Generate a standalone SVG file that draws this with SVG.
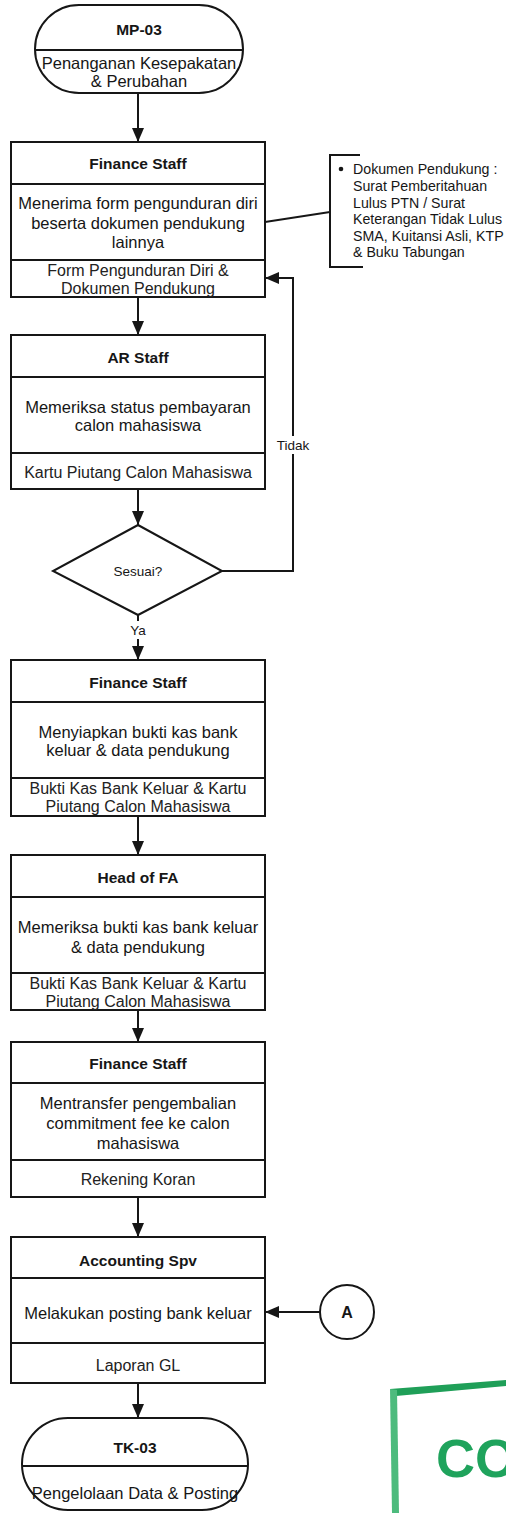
<svg xmlns="http://www.w3.org/2000/svg" width="506" height="1513" viewBox="0 0 506 1513">
  <defs>
    <marker id="arrow" viewBox="0 0 14 12" refX="14" refY="6" markerWidth="14" markerHeight="12" markerUnits="userSpaceOnUse" orient="auto">
      <path d="M0,0 L14,6 L0,12 Z" fill="#161616"/>
    </marker>
    <style>
      .shape { fill: #ffffff; stroke: #161616; stroke-width: 2; }
      .div { stroke: #161616; stroke-width: 2; }
      .wire { fill: none; stroke: #161616; stroke-width: 2; }
      .title { font-family: "Liberation Sans", Arial, sans-serif; font-weight: bold; font-size: 15.5px; fill: #161616; text-anchor: middle; }
      .body { font-family: "Liberation Sans", Arial, sans-serif; font-size: 16.5px; fill: #161616; text-anchor: middle; }
      .doc { font-family: "Liberation Sans", Arial, sans-serif; font-size: 16px; fill: #222222; text-anchor: middle; }
      .label { font-family: "Liberation Sans", Arial, sans-serif; font-size: 13.5px; fill: #161616; text-anchor: middle; }
      .note { font-family: "Liberation Sans", Arial, sans-serif; font-size: 14.2px; fill: #161616; }
    </style>
  </defs>

  <rect width="506" height="1513" fill="#ffffff"/>

  <!-- connectors -->
  <g id="connectors">
    <line class="wire" x1="138" y1="93" x2="138" y2="142" marker-end="url(#arrow)"/>
    <line class="wire" x1="138" y1="297" x2="138" y2="335" marker-end="url(#arrow)"/>
    <line class="wire" x1="138" y1="489" x2="138" y2="525" marker-end="url(#arrow)"/>
    <line class="wire" x1="138" y1="615" x2="138" y2="660" marker-end="url(#arrow)"/>
    <line class="wire" x1="138" y1="816" x2="138" y2="855" marker-end="url(#arrow)"/>
    <line class="wire" x1="138" y1="1010" x2="138" y2="1042" marker-end="url(#arrow)"/>
    <line class="wire" x1="138" y1="1197" x2="138" y2="1237" marker-end="url(#arrow)"/>
    <line class="wire" x1="138" y1="1383" x2="138" y2="1418" marker-end="url(#arrow)"/>
    <!-- "Tidak" loop back to the first Finance Staff step -->
    <polyline class="wire" points="222,571 293,571 293,278 265,278" marker-end="url(#arrow)"/>
    <!-- off-page connector A into Accounting Spv -->
    <line class="wire" x1="320" y1="1312" x2="265" y2="1312" marker-end="url(#arrow)"/>
    <!-- annotation link -->
    <line class="wire" x1="265" y1="222" x2="330" y2="212"/>
    <!-- branch labels -->
    <rect x="274" y="436" width="38" height="18" fill="#ffffff"/>
    <text class="label" x="293" y="450">Tidak</text>
    <rect x="127" y="621" width="22" height="18" fill="#ffffff"/>
    <text class="label" x="138" y="635">Ya</text>
  </g>

  <!-- start terminator -->
  <g id="mp03">
    <rect class="shape" x="35" y="5" width="208" height="88" rx="44" ry="44"/>
    <line class="div" x1="35" y1="50" x2="243" y2="50"/>
    <text class="title" x="139" y="34.5">MP-03</text>
    <text class="body" x="139" y="69">Penanganan Kesepakatan</text>
    <text class="body" x="139" y="87">&amp; Perubahan</text>
  </g>

  <!-- Finance Staff: receive withdrawal form -->
  <g id="finance-staff-1">
    <rect class="shape" x="11" y="142" width="254" height="155"/>
    <line class="div" x1="11" y1="184" x2="265" y2="184"/>
    <line class="div" x1="11" y1="260" x2="265" y2="260"/>
    <text class="title" x="138" y="168.5">Finance Staff</text>
    <text class="body" x="138" y="209">Menerima form pengunduran diri</text>
    <text class="body" x="138" y="229">beserta dokumen pendukung</text>
    <text class="body" x="138" y="248">lainnya</text>
    <text class="doc" x="138" y="276">Form Pengunduran Diri &amp;</text>
    <text class="doc" x="138" y="294">Dokumen Pendukung</text>
  </g>

  <!-- supporting documents annotation -->
  <g id="note-dokumen">
    <path class="wire" d="M360,155 H330 V267 H363"/>
    <circle cx="341" cy="169" r="2.3" fill="#161616"/>
    <text class="note" x="353" y="174">Dokumen Pendukung :</text>
    <text class="note" x="353" y="191">Surat Pemberitahuan</text>
    <text class="note" x="353" y="208">Lulus PTN / Surat</text>
    <text class="note" x="353" y="224">Keterangan Tidak Lulus</text>
    <text class="note" x="353" y="241">SMA, Kuitansi Asli, KTP</text>
    <text class="note" x="353" y="257">&amp; Buku Tabungan</text>
  </g>

  <!-- AR Staff: check payment status -->
  <g id="ar-staff">
    <rect class="shape" x="11" y="335" width="254" height="154"/>
    <line class="div" x1="11" y1="377" x2="265" y2="377"/>
    <line class="div" x1="11" y1="453" x2="265" y2="453"/>
    <text class="title" x="138" y="362.5">AR Staff</text>
    <text class="body" x="138" y="413">Memeriksa status pembayaran</text>
    <text class="body" x="138" y="431">calon mahasiswa</text>
    <text class="doc" x="138" y="478">Kartu Piutang Calon Mahasiswa</text>
  </g>

  <!-- decision -->
  <g id="sesuai">
    <polygon class="shape" points="138,525 222,571 138,615 53,571"/>
    <text class="label" x="138" y="576">Sesuai?</text>
  </g>

  <!-- Finance Staff: prepare bank payment voucher -->
  <g id="finance-staff-2">
    <rect class="shape" x="11" y="660" width="254" height="156"/>
    <line class="div" x1="11" y1="702" x2="265" y2="702"/>
    <line class="div" x1="11" y1="778" x2="265" y2="778"/>
    <text class="title" x="138" y="687.5">Finance Staff</text>
    <text class="body" x="138" y="738">Menyiapkan bukti kas bank</text>
    <text class="body" x="138" y="756">keluar &amp; data pendukung</text>
    <text class="doc" x="138" y="794">Bukti Kas Bank Keluar &amp; Kartu</text>
    <text class="doc" x="138" y="812">Piutang Calon Mahasiswa</text>
  </g>

  <!-- Head of FA: review voucher -->
  <g id="head-of-fa">
    <rect class="shape" x="11" y="855" width="254" height="155"/>
    <line class="div" x1="11" y1="897" x2="265" y2="897"/>
    <line class="div" x1="11" y1="973" x2="265" y2="973"/>
    <text class="title" x="138" y="882.5">Head of FA</text>
    <text class="body" x="138" y="933">Memeriksa bukti kas bank keluar</text>
    <text class="body" x="138" y="953">&amp; data pendukung</text>
    <text class="doc" x="138" y="989">Bukti Kas Bank Keluar &amp; Kartu</text>
    <text class="doc" x="138" y="1007">Piutang Calon Mahasiswa</text>
  </g>

  <!-- Finance Staff: transfer refund -->
  <g id="finance-staff-3">
    <rect class="shape" x="11" y="1042" width="254" height="155"/>
    <line class="div" x1="11" y1="1083" x2="265" y2="1083"/>
    <line class="div" x1="11" y1="1160" x2="265" y2="1160"/>
    <text class="title" x="138" y="1068.5">Finance Staff</text>
    <text class="body" x="138" y="1109">Mentransfer pengembalian</text>
    <text class="body" x="138" y="1129">commitment fee ke calon</text>
    <text class="body" x="138" y="1149">mahasiswa</text>
    <text class="doc" x="138" y="1185">Rekening Koran</text>
  </g>

  <!-- Accounting Spv: post bank disbursement -->
  <g id="accounting-spv">
    <rect class="shape" x="11" y="1237" width="254" height="146"/>
    <line class="div" x1="11" y1="1278" x2="265" y2="1278"/>
    <line class="div" x1="11" y1="1343" x2="265" y2="1343"/>
    <text class="title" x="138" y="1265.5">Accounting Spv</text>
    <text class="body" x="138" y="1319">Melakukan posting bank keluar</text>
    <text class="doc" x="138" y="1371">Laporan GL</text>
  </g>

  <!-- off-page connector -->
  <g id="connector-a">
    <circle class="shape" cx="347" cy="1312" r="27"/>
    <text class="title" x="347" y="1318" style="font-size:16px">A</text>
  </g>

  <!-- end terminator -->
  <g id="tk03">
    <rect class="shape" x="22" y="1418" width="226" height="92" rx="46" ry="46"/>
    <line class="div" x1="22" y1="1466" x2="248" y2="1466"/>
    <text class="title" x="135" y="1452.5">TK-03</text>
    <text class="body" x="135" y="1499">Pengelolaan Data &amp; Posting</text>
  </g>

  <!-- green ink stamp in the corner, running off the page edge -->
  <g id="stamp">
    <polygon points="390,1389 506,1380 506,1386 396,1396" fill="#1f9f58"/>
    <polygon points="390,1389 397,1390 399,1513 392,1513" fill="#4dbb7d"/>
    <text x="436" y="1477" font-family="Liberation Sans, Arial, sans-serif" font-weight="bold" font-size="54" fill="#1fa35c">CO</text>
  </g>
</svg>
